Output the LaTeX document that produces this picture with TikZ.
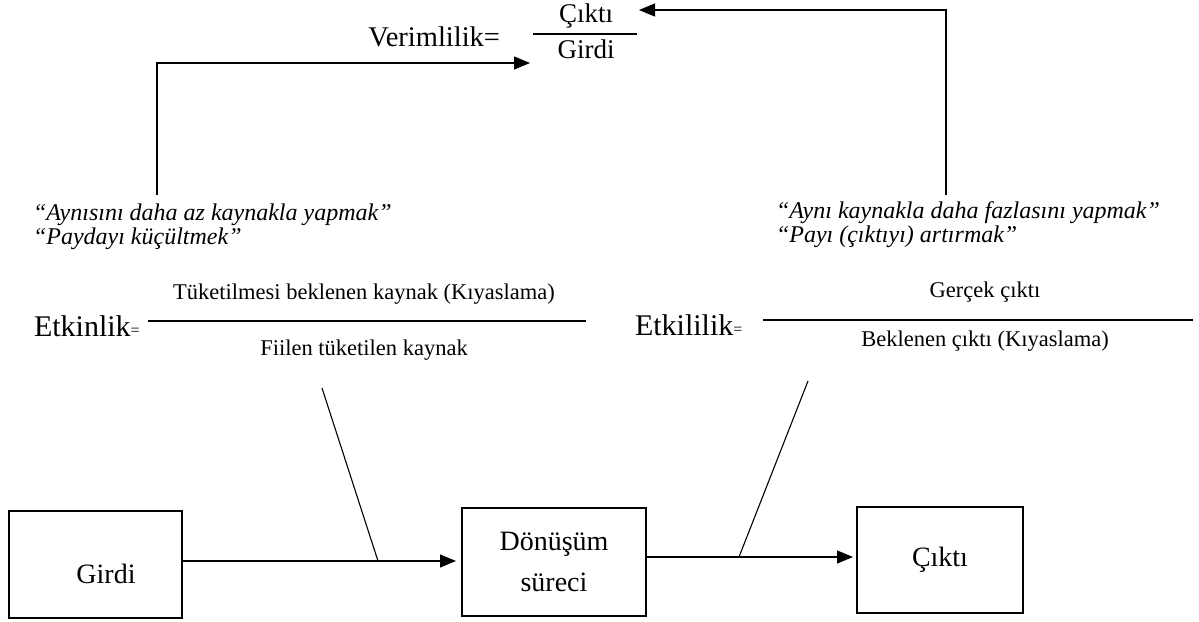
\documentclass[tikz,border=0pt]{standalone}
\usepackage{fontspec}
\setmainfont{Liberation Serif}
\usetikzlibrary{arrows.meta,calc}
\begin{document}
\begin{tikzpicture}[x=1pt,y=-1pt,
  every node/.style={inner sep=0pt, outer sep=0pt},
  big/.style={font=\fontsize{28.5}{33}\selectfont},
  eq/.style={font=\fontsize{30}{34}\selectfont},
  frac/.style={font=\fontsize{27}{30}\selectfont},
  mid/.style={font=\fontsize{22.5}{26}\selectfont},
  ital/.style={font=\fontsize{24}{24}\selectfont\itshape, align=left, anchor=north west},
  box/.style={draw, line width=1.1pt, font=\fontsize{28}{41}\selectfont, align=center},
  boxtext/.style={font=\fontsize{28}{41}\selectfont},
  ln/.style={line width=1.1pt},
  arr/.style={line width=1.1pt, -{Triangle[length=16pt,width=13pt]}}
]
\useasboundingbox (0,0) rectangle (1199,621);

% Verimlilik formula
\node[big, anchor=east] (ver) at (500,37) {Verimlilik=};
\node[frac] (vnum) at (586,16) {Çıktı};
\node[frac] (vden) at (586,49) {Girdi};
\coordinate (vl) at (533,34);
\coordinate (vr) at (637,34);
\draw[ln] (vl) -- (vr);

% italic notes
\node[ital] (lnote) at (33,204) {“Aynısını daha az kaynakla yapmak”\\“Paydayı küçültmek”};
\node[ital] (rnote) at (776,202) {“Aynı kaynakla daha fazlasını yapmak”\\“Payı (çıktıyı) artırmak”};

% feedback arrows
\coordinate (ltop) at (157,195);
\coordinate (lc) at (157,63);
\coordinate (lend) at (530,63);
\draw[arr] (ltop) -- (lc) -- (lend);
\coordinate (rtop) at (946,195);
\coordinate (rc) at (946,10);
\coordinate (rend) at (639,10);
\draw[arr] (rtop) -- (rc) -- (rend);

% Etkinlik
\node[eq, anchor=west] (etk) at (34,326) {Etkinlik\raisebox{1pt}{\fontsize{16}{16}\selectfont=}};
\node[mid] (enum) at (364,294) {Tüketilmesi beklenen kaynak (Kıyaslama)};
\node[mid] (eden) at (364,350) {Fiilen tüketilen kaynak};
\coordinate (el) at (148,321);
\coordinate (er) at (586,321);
\draw[ln] (el) -- (er);

% Etkililik
\node[eq, anchor=west] (etl) at (635,325) {Etkililik\raisebox{1pt}{\fontsize{16}{16}\selectfont=}};
\node[mid] (lnum) at (985,292) {Gerçek çıktı};
\node[mid] (lden) at (985,341) {Beklenen çıktı (Kıyaslama)};
\coordinate (ll) at (763,320);
\coordinate (lr) at (1193,320);
\draw[ln] (ll) -- (lr);

% boxes
\node[box, minimum width=173pt, minimum height=107pt] (girdi) at (95.5,564.5) {};
\node[boxtext] (girditxt) at (106,574) {Girdi};
\node[box, minimum width=184pt, minimum height=108pt] (don) at (554,562) {Dönüşüm\\süreci};
\node[box, minimum width=166pt, minimum height=106pt] (cikti) at (940,560) {Çıktı};

\draw[arr, shorten >=6pt] (girdi.east |- 0,561) -- (don.west |- 0,561);
\draw[arr, shorten >=4pt] (don.east |- 0,557) -- (cikti.west |- 0,557);

% diagonal links
\coordinate (d1a) at (322,388);
\coordinate (d1b) at (378,561);
\draw[ln] (d1a) -- (d1b);
\coordinate (d2a) at (808,381);
\coordinate (d2b) at (739,557);
\draw[ln] (d2a) -- (d2b);
\end{tikzpicture}
\end{document}
